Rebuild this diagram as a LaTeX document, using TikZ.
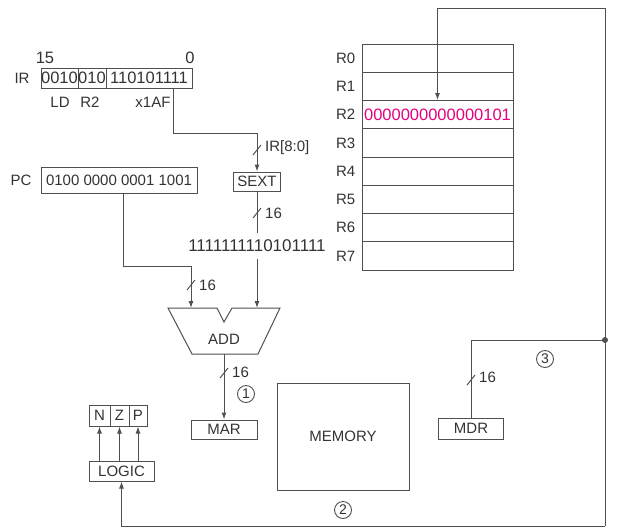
\documentclass[tikz,border=0pt]{standalone}
\usepackage{fontspec}
\setmainfont{Liberation Sans}
\usetikzlibrary{arrows.meta, positioning, calc}
\definecolor{wiregray}{HTML}{505050}
\definecolor{inkgray}{HTML}{333333}
\definecolor{regpink}{HTML}{E5007E}

\begin{document}
\begin{tikzpicture}[x=1pt, y=-1pt,
        >=Latex,
        every node/.style={font=\fontsize{15}{18}\selectfont, text=inkgray},
        box/.style={draw=wiregray, line width=1pt, inner sep=0pt, align=center},
        bits/.style={font=\fontsize{16.5}{18}\selectfont},
        lbl/.style={inner sep=0pt},
        wire/.style={draw=wiregray, line width=1pt},
        arr/.style={wire, -{Latex[length=7pt, width=5pt]}},
        numcirc/.style={circle, draw=wiregray, line width=0.9pt, inner sep=0pt,
                        minimum size=17pt, font=\fontsize{14}{14}\selectfont},
        busmark/.pic={\draw[wiregray, line width=1pt] (-4,5) -- (4,-5);},
    ]
    \useasboundingbox (0,0) rectangle (621,531);

    % ---- Register file ----
    \foreach \i in {0,...,7} {
        \node[box, minimum width=151, minimum height=28.25] (r\i) at (437.5, {58.125+28.25*\i}) {};
        \node[lbl, anchor=east] (rl\i) at ([xshift=-6]r\i.west) {R\i};
    }
    \node[lbl, bits, text=regpink] (r2val) at (r2) {0000000000000101};

    % ---- IR ----
    \node[lbl] (irlbl) at (22,78) {IR};
    \node[box, bits, minimum width=37, minimum height=20] (ir1) at (59.5,78) {0010};
    \node[box, bits, minimum width=28, minimum height=20] (ir2) at (92,78) {010};
    \node[box, bits, minimum width=86, minimum height=20] (ir3) at (149,78) {110101111};
    \node[lbl, bits] (msb) at (45,58) {15};
    \node[lbl, bits] (lsb) at (190,58) {0};
    \node[lbl] (oplbl) at (60,102) {LD};
    \node[lbl] (drlbl) at (90,102) {R2};
    \node[lbl] (offlbl) at (153,102) {x1AF};

    % ---- PC ----
    \node[lbl] (pclbl) at (21,180) {PC};
    \node[box, minimum width=156, minimum height=26] (pc) at (119,180) {0100 0000 0001 1001};

    % ---- SEXT and offset ----
    \node[box, minimum width=47, minimum height=19] (sext) at (257,181.5) {SEXT};
    \node[lbl, font=\fontsize{17}{18}\selectfont, inner ysep=7pt] (imm) at (257,246) {1111111110101111};

    \draw[arr] ([xshift=24]ir3.south) -- ++(0,45) -| (sext.north);
    \pic at (257,150) {busmark};
    \node[lbl, anchor=west] (irfield) at (265,148) {IR[8:0]};

    \draw[wire] (sext.south) -- (imm.north);
    \pic at (257,213) {busmark};
    \node[lbl, anchor=west] (sextw) at (265,213) {16};

    % ---- ADD ----
    \coordinate (addL) at (191,308);
    \coordinate (addR) at (257,308);
    \coordinate (addout) at (224,354);
    \draw[wire, fill=white] (168,308) -- (217,308) -- (224,322) -- (232,308)
        -- (280,308) -- (258,354) -- (192,354) -- cycle;
    \node[lbl] (add) at (224,339) {ADD};

    \draw[arr] ([xshift=4]pc.south) -- ++(0,73) -| (addL);
    \pic at (191,285) {busmark};
    \node[lbl, anchor=west] (pcw) at (199,285) {16};
    \draw[arr] (imm.south) -- (addR);

    % ---- MAR, MEMORY, MDR ----
    \node[box, minimum width=66, minimum height=19] (mar) at (224,429.5) {MAR};
    \node[box, minimum width=132, minimum height=107] (mem) at (343,436.5) {MEMORY};
    \node[box, minimum width=65, minimum height=21] (mdr) at (471,428.5) {MDR};

    \draw[arr] (addout) -- (mar.north);
    \pic at (224,373) {busmark};
    \node[lbl, anchor=west] (addw) at (232,372) {16};
    \node[numcirc] (step1) at (246,394) {1};

    % ---- Bus back to R2 and LOGIC ----
    \coordinate (jn) at (605,340);
    \coordinate (tr) at (605,8);
    \coordinate (br) at (605,526);
    \draw[arr] (br) -- (tr) -| (r2.north);
    \draw[wire] (mdr.north) |- (jn);
    \fill[wiregray] (jn) circle (3pt);
    \pic at (471,380) {busmark};
    \node[lbl, anchor=west] (mdrw) at (479,377) {16};
    \node[numcirc] (step3) at (545,359) {3};

    % ---- Condition codes ----
    \node[box, minimum width=21, minimum height=21] (n) at (99.5,415.5) {N};
    \node[box, minimum width=19, minimum height=21] (z) at (119.5,415.5) {Z};
    \node[box, minimum width=18, minimum height=21] (p) at (138,415.5) {P};
    \node[box, minimum width=65, minimum height=20] (logic) at (121.5,471) {LOGIC};
    \foreach \f in {n,z,p}
        \draw[arr] (logic.north -| \f) -- (\f.south);

    \draw[arr] (br) -| (logic.south);
    \node[numcirc] (step2) at (343,510) {2};

\end{tikzpicture}
\end{document}
